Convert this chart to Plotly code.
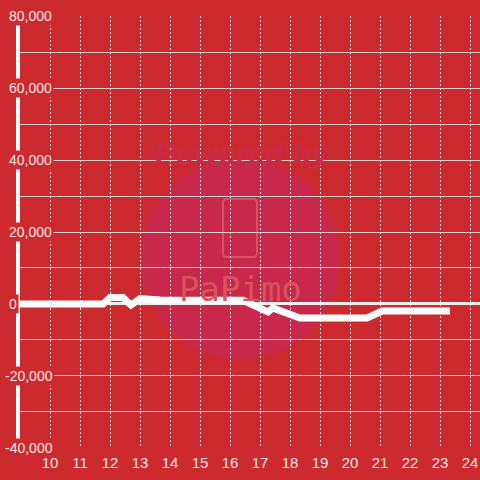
import plotly.graph_objects as go

# ---- data ----
hours = [9.0, 11.77, 12.0, 12.43, 12.7, 13.0, 13.67, 16.43, 17.27, 17.43, 18.33, 20.57, 21.07, 23.33]
values = [0, 0, 1800, 1800, -300, 1500, 1100, 1000, -2200, -1100, -3900, -3900, -2000, -2000]

x_ticks = list(range(10, 25))
y_tick_vals = [80000, 60000, 40000, 20000, 0, -20000, -40000]
y_tick_text = ["80,000", "60,000", "40,000", "20,000", "0", "-20,000", "-40,000"]

BG = "#CD2A2F"
TXT = "#f6e6e6"

W, H = 480, 480
L, R, T, B = 20, 0, 16, 32
PW, PH = W - L - R, H - T - B


def px(p):
    return (p - L) / PW


def py(p):
    return (H - B - p) / PH


def rounded_rect(x0, y0, x1, y1, r):
    pts = [
        ("M", x0 + r, y0), ("L", x1 - r, y0), ("Q", x1, y0, x1, y0 + r),
        ("L", x1, y1 - r), ("Q", x1, y1, x1 - r, y1), ("L", x0 + r, y1),
        ("Q", x0, y1, x0, y1 - r), ("L", x0, y0 + r), ("Q", x0, y0, x0 + r, y0),
    ]
    out = []
    for p in pts:
        cmd = p[0]
        coords = p[1:]
        s = []
        for i in range(0, len(coords), 2):
            s.append(f"{px(coords[i]):.5f},{py(coords[i + 1]):.5f}")
        out.append(cmd + " " + " ".join(s))
    return " ".join(out) + " Z"


fig = go.Figure()
fig.add_trace(go.Scatter(
    x=hours, y=values, mode="lines",
    line=dict(color="white", width=7),
    hoverinfo="skip", showlegend=False,
))

shapes = [
    dict(type="circle", xref="paper", yref="paper",
         x0=px(140), x1=px(340), y0=py(359), y1=py(159),
         fillcolor="#C8294A", line=dict(width=0), layer="below"),
    dict(type="path", xref="paper", yref="paper",
         path=rounded_rect(223, 199, 257, 257, 4),
         line=dict(color="#D9525C", width=2), fillcolor="rgba(0,0,0,0)", layer="below"),
]

annotations = []
for v, t in zip(y_tick_vals, y_tick_text):
    xp = 2.5 if t.startswith("-") else 7
    annotations.append(dict(
        x=px(xp), y=v, xref="paper", yref="y", text=t, showarrow=False,
        xanchor="left", yanchor="middle", bgcolor=BG, borderpad=1,
        font=dict(family="Liberation Sans, Arial", size=14, color=TXT),
    ))

annotations.append(dict(
    x=px(243), y=py(134), xref="paper", yref="paper", text="<b><i>Powered by</i></b>",
    showarrow=False, font=dict(family="Liberation Sans, Arial", size=31, color="#C92A48"),
))
annotations.append(dict(
    x=px(240), y=py(289), xref="paper", yref="paper", text="PaPimo",
    showarrow=False, font=dict(family="DejaVu Sans Mono", size=34, color="#D9525C"),
))

fig.update_layout(
    width=W, height=H,
    margin=dict(l=L, r=R, t=T, b=B),
    paper_bgcolor=BG, plot_bgcolor=BG,
    shapes=shapes, annotations=annotations,
    xaxis=dict(
        range=[9, 9 + PW / 30], tickvals=x_ticks, ticktext=[str(v) for v in x_ticks],
        showgrid=True, gridcolor="#e0dede", gridwidth=1, griddash="2px,2px",
        showline=False, zeroline=False, ticks="", ticklabelstandoff=4,
        tickfont=dict(family="Liberation Sans, Arial", size=15, color=TXT),
        fixedrange=True,
    ),
    yaxis=dict(
        range=[-40060, 80060], dtick=10000, tick0=0,
        showgrid=True, gridcolor="#d4d0d0", gridwidth=1,
        showticklabels=False, ticks="",
        showline=True, linecolor="white", linewidth=4,
        zeroline=True, zerolinecolor="#f2eeee", zerolinewidth=3,
        fixedrange=True,
    ),
)

fig.write_html(
    "out.html",
    config={"displayModeBar": False},
    post_script="document.body.style.margin='0';document.body.style.overflow='hidden';",
)
